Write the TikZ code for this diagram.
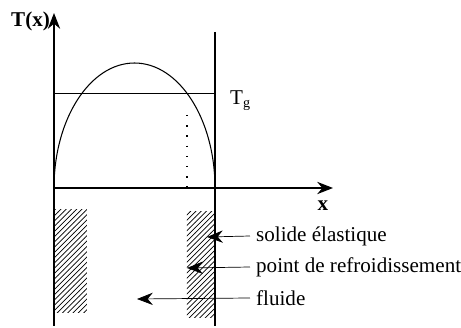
\documentclass[tikz,border=0pt]{standalone}
\usepackage{fontspec}
\setmainfont{Liberation Serif}
\usetikzlibrary{patterns,arrows.meta}

\begin{document}
\begin{tikzpicture}[x=0.02cm,y=-0.02cm,>={Stealth[length=9pt,width=7pt]},
    lbl/.style={font=\fontsize{12}{14}\selectfont,anchor=west},
    hatch/.style={pattern=north east lines}]
    \useasboundingbox (0,0) rectangle (461,328);

    % body and pointers
    \coordinate (O) at (54,188);
    \fill[hatch] (54,210) rectangle (87,313);
    \fill[hatch] (187,212) rectangle (215,318);

    % souřadnicové osy
    \draw[->,line width=0.8pt] (54,326) -- (54,13) coordinate (Y);
    \node[anchor=east,font=\bfseries\fontsize{12}{14}\selectfont,inner sep=1pt] (Ty) at (52,21) {T(x)};
    \draw[->,line width=0.8pt] (O) -- (333,188) coordinate (X);
    \node[font=\bfseries\fontsize{12}{14}\selectfont] (xl) at (323,206) {x};
    \draw[line width=0.8pt] (215,32) -- (215,326);

    % profil teploty
    \draw[line width=0.6pt] (O) arc[start angle=180, end angle=360, x radius=80.5, y radius=125];
    \draw[line width=0.5pt] (54,93) -- (215,93) coordinate (G);
    \node[lbl] (Tg) at (224,101) {T\textsubscript{g}};
    \draw[line width=0.6pt,dash pattern=on 0.8pt off 5pt] (187,115) -- (187,196);

    % popisky
    \node[lbl] (sol) at (250,236) {solide élastique};
    \node[lbl] (pt) at (250,267) {point de refroidissement};
    \node[lbl] (fl) at (250,298) {fluide};
    \draw[->,line width=0.4pt] (sol.west) -- (207,237);
    \draw[->,line width=0.4pt] (pt.west) -- (187,268);
    \draw[->,line width=0.4pt] (fl.west) -- (137,299);
\end{tikzpicture}
\end{document}
